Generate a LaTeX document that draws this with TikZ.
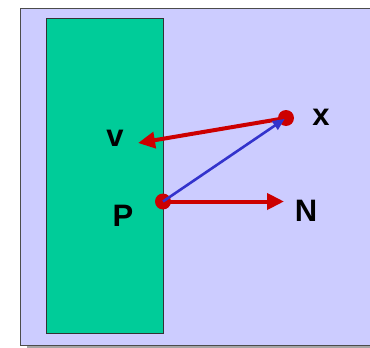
\documentclass[tikz,border=0pt]{standalone}
\usepackage{fontspec}
\setmainfont{Liberation Sans}
\usetikzlibrary{arrows.meta,positioning}
\definecolor{bgLav}{HTML}{CCCCFF}
\definecolor{wallGreen}{HTML}{00CC99}
\definecolor{vecRed}{HTML}{CC0000}
\definecolor{vecBlue}{HTML}{3333CC}

\begin{document}
\begin{tikzpicture}[x=1pt, y=-1pt,
  font=\bfseries\fontsize{31}{31}\selectfont,
  pt/.style={circle,fill=vecRed,minimum size=16pt,inner sep=0pt},
  redvec/.style={vecRed,line width=4pt,-{Triangle[length=17pt,width=16pt]}},
  bluevec/.style={vecBlue,line width=2.6pt,-{Triangle[length=12pt,width=10pt]}}]
  \useasboundingbox (0,0) rectangle (370,348);
% --- frame and wall ---
  \fill[gray!70] (27,11) rectangle (372,348);
  \draw[fill=bgLav,draw=black!70,line width=1pt] (20,8) rectangle (375,345);
  \draw[fill=wallGreen,draw=black!80,line width=1pt] (46,18) rectangle (163,333);
% --- points ---
  \node[pt] (p) at (163,201.5) {};
  \node[pt] (x) at (286,118) {};
  \coordinate (vtip) at (138,143);
  \coordinate (ntip) at (284,201.5);
  \draw[redvec] (x.center)--(vtip);
  \draw[redvec] (p.center)--(ntip);
  \draw[bluevec,shorten >=1.5pt] (p.center)--(x.center);
% --- labels ---
  \node (vlab) at (115,138) {v};
  \node (xlab) at (321,117) {x};
  \node (plab) at (123,216) {P};
  \node (nlab) at (306,211) {N};
\end{tikzpicture}
\end{document}
